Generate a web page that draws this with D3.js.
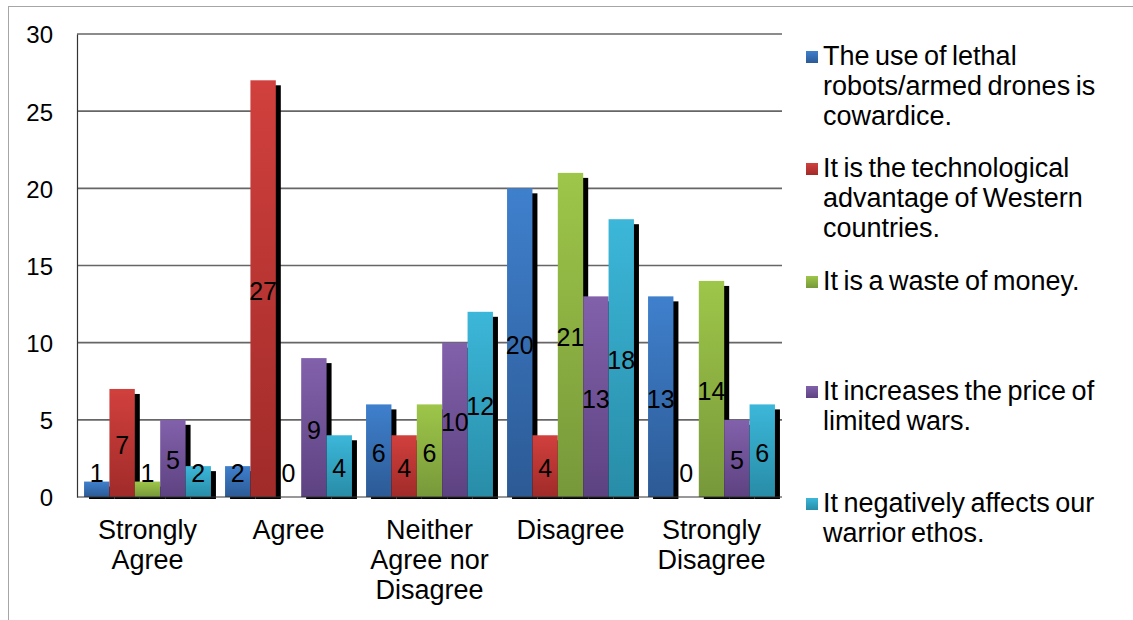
<!DOCTYPE html>
<html>
<head>
<meta charset="utf-8">
<script src="https://cdn.jsdelivr.net/npm/d3@7"></script>
<style>
  html, body { margin: 0; padding: 0; background: #fff; }
  svg { display: block; }
  text { font-family: "Liberation Sans", Arial, sans-serif; fill: #000; }
</style>
</head>
<body>
<svg id="chart" width="1133" height="620"></svg>
<script>
const categories = [
  ["Strongly", "Agree"],
  ["Agree"],
  ["Neither", "Agree nor", "Disagree"],
  ["Disagree"],
  ["Strongly", "Disagree"]
];
const seriesNames = [
  ["The use of lethal", "robots/armed drones is", "cowardice."],
  ["It is the technological", "advantage of Western", "countries."],
  ["It is a waste of money."],
  ["It increases the price of", "limited wars."],
  ["It negatively affects our", "warrior ethos."]
];
const cowardice   = [1, 2, 6, 20, 13];
const technology  = [7, 27, 4, 4, 0];
const wasteMoney  = [1, 0, 6, 21, 14];
const priceWars   = [5, 9, 10, 13, 5];
const warriorEthos = [2, 4, 12, 18, 6];
const yTicks = [0, 5, 10, 15, 20, 25, 30];

const seriesValues = [cowardice, technology, wasteMoney, priceWars, warriorEthos];
const colorTop = ["#3f80cd", "#d1403d", "#9ec649", "#8261ab", "#3cb7d9"];
const colorBot = ["#2c5a95", "#a02b29", "#77983a", "#5d4281", "#288ca7"];

const svg = d3.select("#chart");
const defs = svg.append("defs");
colorTop.forEach((c, i) => {
  const g = defs.append("linearGradient").attr("id", "grad" + i)
    .attr("x1", 0).attr("y1", 0).attr("x2", 0).attr("y2", 1);
  g.append("stop").attr("offset", "0%").attr("stop-color", c);
  g.append("stop").attr("offset", "100%").attr("stop-color", colorBot[i]);
});

// outer frame
svg.append("rect").attr("x", 8.5).attr("y", 6.5).attr("width", 1140).attr("height", 640)
  .attr("fill", "none").attr("stroke", "#a6a6a6").attr("stroke-width", 1);

const catKeys = categories.map((c, i) => i);
const x0 = d3.scaleBand().domain(catKeys).range([77, 782]).paddingInner(0.1).paddingOuter(0.05);
const x1 = d3.scaleBand().domain(d3.range(seriesValues.length)).range([0, x0.bandwidth()]);
const y = d3.scaleLinear().domain([0, 30]).range([497, 34]);

// gridlines
svg.append("g").selectAll("line").data(yTicks.filter(t => t > 0)).join("line")
  .attr("x1", 77).attr("x2", 782)
  .attr("y1", d => y(d)).attr("y2", d => y(d))
  .attr("stroke", "#666").attr("stroke-width", 1.7);

// y axis
const yAxis = d3.axisLeft(y).tickValues(yTicks).tickSize(0).tickPadding(24);
const gy = svg.append("g").attr("transform", "translate(77,0)").call(yAxis);
gy.select(".domain").attr("stroke", "#333").attr("stroke-width", 1.2);
gy.selectAll("text").style("font-size", "24px").attr("dy", "0.37em")
  .style("font-family", "'Liberation Sans', Arial, sans-serif");

const data = [];
catKeys.forEach(ci => seriesValues.forEach((vals, si) => data.push({ ci, si, v: vals[ci] })));

const barX = d => x0(d.ci) + x1(d.si);
const bw = x1.bandwidth();

// shadows
svg.append("g").selectAll("rect").data(data.filter(d => d.v > 0)).join("rect")
  .attr("x", d => barX(d) + 5)
  .attr("y", d => y(d.v) + 5)
  .attr("width", bw)
  .attr("height", d => y(0) - y(d.v) - 3)
  .attr("fill", "#000");

// bars
svg.append("g").selectAll("rect").data(data.filter(d => d.v > 0)).join("rect")
  .attr("x", d => barX(d))
  .attr("y", d => y(d.v))
  .attr("width", bw)
  .attr("height", d => y(0) - y(d.v))
  .attr("fill", d => `url(#grad${d.si})`);

// baseline
svg.append("line").attr("x1", 77).attr("x2", 782).attr("y1", y(0)).attr("y2", y(0))
  .attr("stroke", "#333").attr("stroke-width", 1.2);

// value labels
svg.append("g").selectAll("text").data(data).join("text")
  .attr("x", d => barX(d) + bw / 2)
  .attr("y", d => Math.min((y(d.v) + y(0)) / 2 + 2, y(0) - 24))
  .attr("dy", "0.36em")
  .attr("text-anchor", "middle")
  .style("font-size", "25px")
  .text(d => d.v);

// category labels
const cg = svg.append("g");
categories.forEach((lines, ci) => {
  const t = cg.append("text").attr("text-anchor", "middle").style("font-size", "27px")
    .attr("x", x0(ci) + x0.bandwidth() / 2).attr("y", 539);
  lines.forEach((ln, li) => t.append("tspan").attr("x", x0(ci) + x0.bandwidth() / 2)
    .attr("y", 539 + li * 30).text(ln));
});

// legend
const legendBase = [65, 177, 290, 400, 512];
const lg = svg.append("g");
seriesNames.forEach((lines, si) => {
  lg.append("rect").attr("x", 806).attr("y", legendBase[si] - 14).attr("width", 12).attr("height", 12)
    .attr("fill", `url(#grad${si})`);
  const t = lg.append("text").style("font-size", "27px").style("word-spacing", "-2px");
  lines.forEach((ln, li) => t.append("tspan").attr("x", 823).attr("y", legendBase[si] + li * 30).text(ln));
});
</script>
</body>
</html>
